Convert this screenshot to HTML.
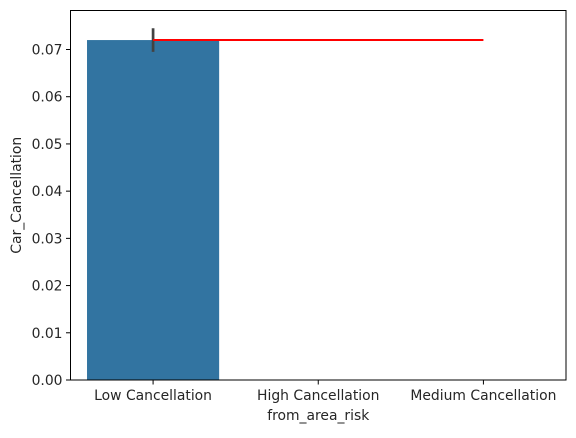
<!DOCTYPE html>
<html><head><meta charset="utf-8"><style>
body{margin:0;background:#fff;}
svg text{font-family:"DejaVu Sans","Liberation Sans",sans-serif;font-size:13.9px;fill:#262626;}
</style></head><body>
<svg id="chart" width="576" height="433" xmlns="http://www.w3.org/2000/svg"></svg>
<script>
const categories=["Low Cancellation","High Cancellation","Medium Cancellation"];
const values=[0.072,0,0];
const errLow=[0.0695,null,null];
const errHigh=[0.0745,null,null];
const lineValues=[0.072,0.072,0.072];
const yTicks=[0,0.01,0.02,0.03,0.04,0.05,0.06,0.07];
const tickLabels=["0.00","0.01","0.02","0.03","0.04","0.05","0.06","0.07"];
const L=70.5,R=566,T=10.5,B=380;
const svg=document.getElementById('chart');
const NS='http://www.w3.org/2000/svg';
function y(v){return B-v/0.07*(B-49.5);}
const step=(R-L)/categories.length;
function x(i){return L+step*(i+0.5);}
function mk(t,a,parent){const e=document.createElementNS(NS,t);for(const k in a)e.setAttribute(k,a[k]);(parent||svg).appendChild(e);return e;}
const bw=step*0.8;
values.forEach((v,i)=>{if(v>0){const r=mk('rect',{x:x(i)-bw/2,y:y(v),width:bw,height:B-y(v),fill:'#3274a1'});

}
if(errLow[i]!=null){const l=mk('line',{x1:x(i),x2:x(i),y1:y(errLow[i]),y2:y(errHigh[i]),stroke:'#424242','stroke-width':2.7});

}});
const pts=lineValues.map((v,i)=>x(i)+','+y(v)).join(' ');
const pl=mk('polyline',{points:pts,fill:'none',stroke:'#ff0000','stroke-width':2});


const frame=mk('rect',{x:L,y:T,width:R-L,height:B-T,fill:'none',stroke:'#000','stroke-width':1});


yTicks.forEach((v,i)=>{mk('line',{x1:L-4.5,x2:L,y1:y(v),y2:y(v),stroke:'#000','stroke-width':1});
const t=mk('text',{x:L-8,y:y(v)+5,'text-anchor':'end'});t.textContent=tickLabels[i];

});
categories.forEach((c,i)=>{mk('line',{x1:x(i),x2:x(i),y1:B,y2:B+4.5,stroke:'#000','stroke-width':1});
const t=mk('text',{x:x(i),y:B+20,'text-anchor':'middle'});t.textContent=c;

});
const xt=mk('text',{x:(L+R)/2,y:B+40,'text-anchor':'middle'});xt.textContent='from_area_risk';


const yt=mk('text',{x:0,y:0,'text-anchor':'middle',transform:'translate(21,'+((T+B)/2)+') rotate(-90)'});yt.textContent='Car_Cancellation';


</script>
</body></html>
